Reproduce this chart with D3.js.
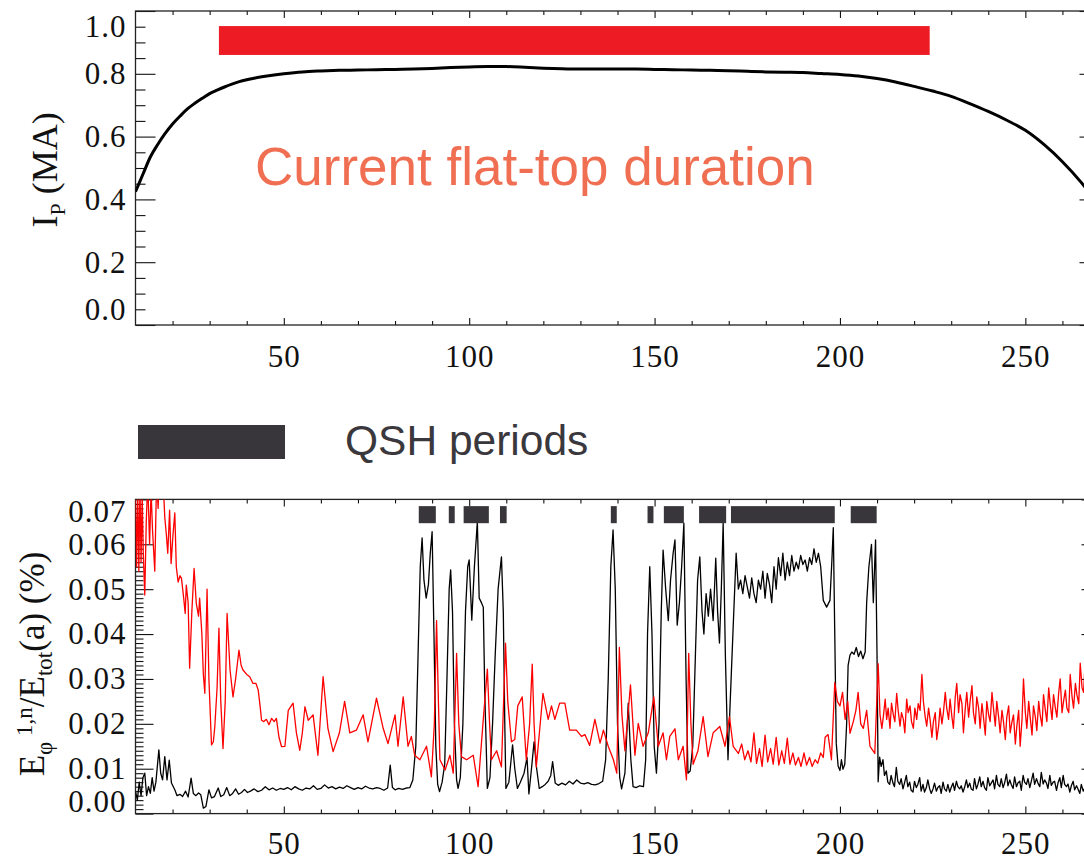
<!DOCTYPE html>
<html>
<head>
<meta charset="utf-8">
<script src="https://cdn.jsdelivr.net/npm/d3@7"></script>
<style>
  html, body { margin: 0; padding: 0; background: #fff; }
  #chart { width: 1084px; height: 862px; }
</style>
</head>
<body>
<div id="chart"></div>
<script>
// ---- data ----
// plasma current, time (ms) -> Ip (MA)
const ipPoints = [
  [10, 0.425], [12, 0.48], [14, 0.535], [16, 0.575], [18, 0.61], [20, 0.64], [22, 0.665],
  [24, 0.688], [26, 0.706], [28, 0.722], [30, 0.737], [32, 0.748], [34, 0.758], [36, 0.767],
  [38, 0.775], [40, 0.781], [42, 0.786], [45, 0.792], [50, 0.8], [55, 0.806], [60, 0.809],
  [65, 0.811], [70, 0.812], [75, 0.813], [80, 0.814], [85, 0.815], [90, 0.817], [95, 0.82],
  [100, 0.822], [105, 0.823], [110, 0.823], [115, 0.821], [120, 0.818], [125, 0.816],
  [130, 0.815], [135, 0.815], [140, 0.815], [145, 0.815], [150, 0.814], [155, 0.813],
  [160, 0.812], [165, 0.811], [170, 0.81], [175, 0.808], [180, 0.806], [185, 0.805],
  [190, 0.804], [195, 0.801], [200, 0.798], [205, 0.793], [210, 0.785], [215, 0.774],
  [220, 0.76], [225, 0.745], [230, 0.728], [235, 0.705], [240, 0.68], [245, 0.652],
  [250, 0.62], [255, 0.575], [260, 0.52], [265, 0.455], [268, 0.41]
];

// dominant mode energy (black)
const blackPoints = [
  [10, 0.005], [10.5, 0.003], [11, 0.007], [11.5, 0.004], [12, 0.008], [12.5, 0.009], [13, 0.004],
  [13.5, 0.006], [14, 0.0045], [14.5, 0.008], [15, 0.005], [15.5, 0.007], [16.3, 0.0142], [16.8, 0.009],
  [17.3, 0.0075], [17.9, 0.0127], [18.5, 0.0075], [19.1, 0.0119], [19.7, 0.0068], [20.6, 0.0053],
  [21.2, 0.004], [22, 0.0043], [22.7, 0.0038], [23.5, 0.005], [24.2, 0.0037], [25, 0.0079],
  [25.6, 0.0045], [26.3, 0.004], [27, 0.0046], [27.6, 0.0042], [28.3, 0.0012], [29, 0.0016],
  [29.8, 0.0053], [30.5, 0.0035], [31.3, 0.0038], [32.3, 0.0057], [33, 0.0038], [33.8, 0.0042],
  [34.6, 0.0058], [35.4, 0.004], [36.2, 0.0045], [37, 0.0055], [37.8, 0.0043], [38.6, 0.0047],
  [39.4, 0.0054], [40.2, 0.0047], [41, 0.005], [42, 0.0055], [43, 0.0049], [44, 0.0052], [45, 0.006],
  [46, 0.0053], [47, 0.0057], [48, 0.0052], [49, 0.0056], [50, 0.0054], [51, 0.0058], [52, 0.0053],
  [53, 0.006], [54, 0.0055], [55, 0.0052], [56, 0.0057], [57, 0.0055], [58, 0.0062], [59, 0.0054],
  [60, 0.0056], [61, 0.0064], [62, 0.0057], [63, 0.006], [64, 0.0055], [65, 0.0059], [66, 0.0056],
  [67, 0.0062], [68, 0.0058], [69, 0.0054], [70, 0.0058], [71, 0.0055], [72, 0.0061], [73, 0.0057],
  [74, 0.0055], [75, 0.0058], [76, 0.0056], [77, 0.0052], [78, 0.0057], [78.7, 0.0108], [79.3, 0.0058],
  [80, 0.0053], [81, 0.0056], [82, 0.0054], [83, 0.0057], [84, 0.0058], [84.8, 0.0075], [85.6, 0.015],
  [86.2, 0.035], [86.8, 0.055], [87.3, 0.0614], [87.8, 0.052], [88.4, 0.048], [89, 0.051], [89.5, 0.058],
  [90, 0.0628], [90.5, 0.04], [91, 0.015], [91.5, 0.0065], [92, 0.0049], [92.7, 0.007], [93.4, 0.011],
  [94, 0.03], [94.6, 0.05], [95, 0.0543], [95.5, 0.045], [96, 0.02], [96.6, 0.0075], [97, 0.0056],
  [97.6, 0.008], [98.3, 0.02], [99, 0.045], [99.6, 0.055], [100, 0.0565], [100.7, 0.0431], [101.4, 0.055],
  [102.2, 0.065], [102.7, 0.048], [103.3, 0.047], [103.8, 0.046], [104.2, 0.027], [104.9, 0.0056],
  [105.6, 0.008], [106.3, 0.02], [107, 0.035], [107.8, 0.05], [108.7, 0.0572], [109.2, 0.045],
  [109.6, 0.02], [109.9, 0.0056], [110.7, 0.007], [111.7, 0.0153], [112.3, 0.01], [113, 0.0056],
  [113.8, 0.007], [114.8, 0.009], [115.6, 0.0125], [116.1, 0.0044], [116.8, 0.01], [117.5, 0.016],
  [118.2, 0.01], [118.9, 0.0056], [119.7, 0.006], [120.5, 0.0065], [121.3, 0.0072], [122, 0.0085],
  [122.5, 0.0116], [123.2, 0.0068], [124, 0.0063], [125, 0.0068], [126, 0.0064], [127, 0.0072],
  [128, 0.0066], [129, 0.0075], [130, 0.0068], [131, 0.0066], [132, 0.0069], [133, 0.0065],
  [134, 0.0064], [135, 0.0067], [136, 0.0072], [136.8, 0.012], [137.5, 0.03], [138.2, 0.055],
  [138.8, 0.0632], [139.4, 0.05], [140, 0.02], [140.6, 0.008], [141.1, 0.0055], [142, 0.009],
  [142.9, 0.0246], [143.6, 0.012], [144.2, 0.006], [145, 0.0058], [146, 0.0062], [147, 0.006],
  [147.6, 0.012], [148.1, 0.04], [148.7, 0.055], [149.3, 0.04], [149.9, 0.015], [150.5, 0.009],
  [151.2, 0.02], [151.8, 0.045], [152.3, 0.0587], [153, 0.05], [153.7, 0.043], [154.3, 0.052],
  [155, 0.058], [155.5, 0.061], [156.1, 0.042], [156.7, 0.047], [157.3, 0.055], [157.9, 0.0647],
  [158.5, 0.03], [159, 0.009], [159.6, 0.0095], [160.3, 0.015], [161, 0.035], [161.6, 0.052],
  [162.2, 0.0572], [162.8, 0.045], [163.3, 0.04], [163.9, 0.049], [164.5, 0.044], [165.1, 0.05],
  [165.8, 0.043], [166.5, 0.0569], [167, 0.045], [167.5, 0.038], [168, 0.05], [168.5, 0.0647],
  [169.1, 0.035], [169.8, 0.012], [170.4, 0.025], [171.2, 0.0416], [172, 0.058], [172.6, 0.05],
  [173.2, 0.052], [173.8, 0.049], [174.4, 0.053], [175, 0.0505], [175.6, 0.048], [176.2, 0.0525],
  [176.8, 0.049], [177.4, 0.047], [178, 0.052], [178.6, 0.05], [179.2, 0.054], [179.8, 0.048],
  [180.4, 0.0535], [181, 0.051], [181.6, 0.047], [182.2, 0.055], [182.8, 0.05], [183.4, 0.057],
  [184, 0.053], [184.6, 0.058], [185.2, 0.052], [185.8, 0.056], [186.4, 0.053], [187, 0.0575],
  [187.6, 0.054], [188.2, 0.056], [188.8, 0.0545], [189.4, 0.0575], [190, 0.0555], [190.6, 0.0565],
  [191.2, 0.054], [191.8, 0.057], [192.4, 0.0555], [193, 0.059], [193.6, 0.056], [194.2, 0.058],
  [194.8, 0.055], [195.5, 0.0475], [196.4, 0.046], [197.3, 0.0475], [197.8, 0.056], [198.2, 0.0637],
  [198.6, 0.04], [199, 0.0157], [199.5, 0.0106], [200, 0.0096], [200.4, 0.012], [200.8, 0.0099],
  [201.3, 0.011], [201.8, 0.02], [202.2, 0.033], [202.7, 0.0353], [203.2, 0.036], [203.8, 0.0355],
  [204.4, 0.037], [205, 0.035], [205.6, 0.0362], [206.2, 0.0345], [206.8, 0.036], [207.2, 0.047],
  [207.8, 0.055], [208.5, 0.06], [209, 0.047], [209.6, 0.061], [210, 0.035], [210.3, 0.0071],
  [210.7, 0.0126], [211.1, 0.0105], [211.6, 0.012], [212, 0.0085], [212.5, 0.0095], [212.9, 0.007],
  [213.4, 0.0065], [213.8, 0.0085], [214.3, 0.0068], [214.7, 0.006], [215.2, 0.0103], [215.6, 0.0072],
  [216.1, 0.0065], [216.5, 0.0078], [217, 0.0055], [217.4, 0.0068], [217.9, 0.0085], [218.3, 0.006],
  [218.8, 0.007], [219.2, 0.0052], [219.7, 0.0048], [220.1, 0.0072], [220.6, 0.0058], [221, 0.0065],
  [221.5, 0.008], [221.9, 0.005], [222.4, 0.0065], [222.8, 0.0048], [223.3, 0.0058], [223.7, 0.0075],
  [224.2, 0.0055], [224.6, 0.0045], [225.1, 0.0055], [225.5, 0.0068], [226, 0.005], [226.4, 0.0058],
  [226.9, 0.0062], [227.3, 0.0045], [227.8, 0.007], [228.2, 0.0055], [228.7, 0.005], [229.1, 0.0065],
  [229.6, 0.0048], [230, 0.0058], [230.5, 0.0068], [230.9, 0.0052], [231.4, 0.0072], [231.8, 0.006],
  [232.3, 0.0055], [232.7, 0.0062], [233.2, 0.0048], [233.6, 0.0058], [234.1, 0.0075], [234.5, 0.0058],
  [235, 0.0068], [235.4, 0.0055], [235.9, 0.0052], [236.3, 0.0078], [236.8, 0.0055], [237.2, 0.0065],
  [237.7, 0.0082], [238.1, 0.006], [238.6, 0.0072], [239, 0.0058], [239.5, 0.0052], [239.9, 0.008],
  [240.4, 0.0062], [240.8, 0.0068], [241.3, 0.0075], [241.7, 0.0055], [242.2, 0.0085], [242.6, 0.0065],
  [243.1, 0.006], [243.5, 0.0078], [244, 0.0058], [244.4, 0.0068], [244.9, 0.0088], [245.3, 0.0062],
  [245.8, 0.0075], [246.2, 0.0065], [246.7, 0.0056], [247.1, 0.0082], [247.6, 0.006], [248, 0.0068],
  [248.5, 0.0072], [248.9, 0.0052], [249.4, 0.0085], [249.8, 0.007], [250.3, 0.0065], [250.7, 0.0078],
  [251.2, 0.0058], [251.6, 0.0072], [252.1, 0.009], [252.5, 0.0065], [253, 0.0078], [253.4, 0.0068],
  [253.9, 0.006], [254.3, 0.0092], [254.8, 0.0066], [255.2, 0.0075], [255.7, 0.0068], [256.1, 0.0056],
  [256.6, 0.0085], [257, 0.0063], [257.5, 0.007], [257.9, 0.0072], [258.4, 0.0052], [258.8, 0.0068],
  [259.3, 0.008], [259.7, 0.0058], [260.2, 0.0085], [260.6, 0.0065], [261.1, 0.006], [261.5, 0.0066],
  [262, 0.0048], [262.4, 0.0062], [262.9, 0.0072], [263.3, 0.0053], [263.8, 0.0062], [264.2, 0.0055],
  [264.7, 0.0045], [265.1, 0.0065], [265.6, 0.005], [266.2, 0.006]
];

// secondary modes energy (red)
const redPoints = [
  [10, 0.07], [10.3, 0.055], [10.6, 0.072], [10.9, 0.054], [11.2, 0.073], [11.5, 0.056], [11.8, 0.071],
  [12.1, 0.058], [12.5, 0.0487], [12.9, 0.065], [13.3, 0.074], [13.8, 0.06], [14.2, 0.072], [14.6, 0.063],
  [15.2, 0.054], [15.7, 0.075], [16.1, 0.068], [16.4, 0.076], [16.9, 0.071], [17.4, 0.075], [17.9, 0.066],
  [18.3, 0.0624], [18.7, 0.058], [19.2, 0.0676], [19.6, 0.0557], [20.1, 0.062], [20.6, 0.067], [21, 0.055],
  [21.5, 0.0516], [22, 0.053], [22.4, 0.0524], [23, 0.048], [23.4, 0.0446], [23.7, 0.0509], [24.2, 0.047],
  [24.6, 0.0324], [25.2, 0.045], [25.8, 0.0546], [26.4, 0.0468], [27, 0.044], [27.3, 0.048], [27.9, 0.04],
  [28.3, 0.031], [28.7, 0.0268], [29.3, 0.05], [29.8, 0.03], [30.5, 0.0153], [31, 0.016], [31.4, 0.0195],
  [32, 0.028], [32.5, 0.0413], [33, 0.025], [33.6, 0.0145], [34.2, 0.025], [34.7, 0.0446], [35.5, 0.032],
  [36.3, 0.026], [37, 0.03], [37.9, 0.0364], [38.5, 0.033], [39, 0.032], [40, 0.031], [40.8, 0.0305],
  [41.7, 0.029], [42.5, 0.029], [43.1, 0.0275], [43.6, 0.024], [44, 0.0208], [44.6, 0.0205], [45.3, 0.021],
  [46, 0.0198], [46.7, 0.0212], [47.4, 0.0205], [48, 0.0212], [48.7, 0.017], [49.4, 0.0149], [50.3, 0.015],
  [51.2, 0.023], [52.5, 0.0246], [53.4, 0.018], [54.3, 0.0141], [55, 0.018], [55.7, 0.0238], [56.6, 0.0208],
  [57.9, 0.022], [59.2, 0.013], [60.6, 0.0305], [61.9, 0.019], [63.3, 0.0138], [65, 0.018], [66.4, 0.025],
  [67.8, 0.018], [69.6, 0.0186], [71.4, 0.022], [72.7, 0.016], [75, 0.0257], [76.8, 0.019], [78.1, 0.0156],
  [80, 0.022], [80.8, 0.015], [82.2, 0.026], [83.5, 0.015], [84.4, 0.0172], [85.3, 0.013], [86.7, 0.012],
  [88.5, 0.015], [89.8, 0.0082], [90.6, 0.02], [91.2, 0.043], [91.7, 0.025], [92.1, 0.012], [93.5, 0.0097],
  [94.8, 0.013], [95.7, 0.009], [96.6, 0.0357], [97.2, 0.02], [97.9, 0.0127], [99.3, 0.012], [101.1, 0.013],
  [102.4, 0.006], [103.8, 0.021], [104.9, 0.0322], [105.5, 0.02], [106, 0.012], [107.4, 0.014],
  [108.7, 0.0104], [109.8, 0.038], [110.4, 0.025], [111.4, 0.016], [112.3, 0.0165], [113.1, 0.024],
  [114.3, 0.026], [115.4, 0.012], [116.3, 0.02], [117, 0.0333], [117.5, 0.02], [118.1, 0.0104],
  [119.9, 0.0268], [121.3, 0.021], [122.2, 0.024], [123.1, 0.021], [124.4, 0.0246], [125.8, 0.0246],
  [127.1, 0.0186], [128.9, 0.0186], [130.3, 0.0172], [131.2, 0.0176], [132.5, 0.0152], [133.9, 0.021],
  [135.3, 0.0157], [136.2, 0.0186], [137.5, 0.015], [138.9, 0.012], [139.8, 0.009], [140.5, 0.037],
  [141.2, 0.022], [142, 0.014], [143.5, 0.0287], [144.7, 0.013], [145.6, 0.0201], [146.9, 0.015],
  [148.3, 0.018], [149.8, 0.026], [151, 0.015], [152.3, 0.018], [153.2, 0.012], [154.1, 0.0172],
  [155.5, 0.0189], [156.4, 0.012], [157.7, 0.015], [158.6, 0.0075], [159.2, 0.0357], [159.8, 0.02],
  [160.4, 0.011], [161.7, 0.014], [163.1, 0.0216], [164.4, 0.0127], [165.8, 0.018], [167.6, 0.0194],
  [169, 0.015], [170.2, 0.0216], [171.2, 0.015], [172.6, 0.0134], [173.5, 0.0155], [174.3, 0.012],
  [175.2, 0.014], [176, 0.0115], [176.8, 0.018], [177.5, 0.0112], [178.3, 0.0145], [179, 0.0105],
  [179.8, 0.0175], [180.5, 0.0115], [181.3, 0.0145], [182, 0.011], [182.8, 0.017], [183.5, 0.0108],
  [184.3, 0.014], [185, 0.0112], [185.8, 0.0168], [186.5, 0.011], [187.3, 0.0135], [188, 0.0108],
  [188.8, 0.0125], [189.5, 0.0105], [190.3, 0.0135], [191, 0.0108], [191.8, 0.0125], [192.5, 0.0105],
  [193.3, 0.012], [194, 0.0112], [194.8, 0.0135], [195.5, 0.0125], [196, 0.017], [196.8, 0.0176],
  [197.7, 0.012], [198.6, 0.0292], [199.3, 0.025], [200, 0.024], [200.7, 0.027], [201.4, 0.021],
  [202.1, 0.025], [202.7, 0.0179], [203.6, 0.0205], [204.3, 0.023], [204.9, 0.027], [205.6, 0.02],
  [206.3, 0.019], [207.2, 0.023], [208.1, 0.015], [209.4, 0.0134], [210.3, 0.0334], [210.8, 0.022],
  [211.3, 0.019], [211.7, 0.0216], [212.2, 0.0255], [212.6, 0.021], [213, 0.0235], [213.5, 0.019],
  [213.9, 0.0246], [214.4, 0.022], [214.8, 0.0205], [215.3, 0.0268], [215.7, 0.023], [216.2, 0.0195],
  [216.6, 0.0225], [217.1, 0.021], [217.5, 0.018], [218, 0.0255], [218.4, 0.0225], [218.9, 0.024],
  [219.3, 0.0205], [219.8, 0.019], [220.2, 0.0235], [220.7, 0.021], [221.1, 0.0245], [221.6, 0.023],
  [222.1, 0.031], [222.5, 0.025], [223, 0.0215], [223.4, 0.0195], [223.9, 0.0235], [224.3, 0.021],
  [224.8, 0.017], [225.2, 0.0205], [225.7, 0.0225], [226.1, 0.0165], [226.6, 0.0195], [227, 0.0235],
  [227.5, 0.02], [227.9, 0.0225], [228.4, 0.027], [228.8, 0.0235], [229.3, 0.021], [229.7, 0.0255],
  [230.2, 0.0215], [230.6, 0.019], [231.1, 0.026], [231.5, 0.029], [232, 0.0225], [232.4, 0.0265],
  [232.9, 0.0245], [233.3, 0.018], [233.8, 0.0235], [234.2, 0.027], [234.7, 0.0215], [235.1, 0.025],
  [235.6, 0.0285], [236, 0.0225], [236.5, 0.02], [236.9, 0.026], [237.4, 0.0235], [237.8, 0.019],
  [238.3, 0.0245], [238.7, 0.0215], [239.2, 0.0175], [239.6, 0.025], [240.1, 0.022], [240.5, 0.0205],
  [241, 0.027], [241.4, 0.0235], [241.9, 0.0195], [242.3, 0.025], [242.8, 0.0215], [243.2, 0.018],
  [243.7, 0.023], [244.1, 0.0205], [244.6, 0.0165], [245, 0.0215], [245.5, 0.024], [245.9, 0.018],
  [246.4, 0.0205], [246.8, 0.022], [247.3, 0.0155], [247.7, 0.0195], [248.2, 0.023], [248.6, 0.015],
  [249.1, 0.021], [249.5, 0.03], [250, 0.0225], [250.4, 0.019], [250.9, 0.025], [251.3, 0.0215],
  [251.8, 0.0175], [252.2, 0.024], [252.7, 0.0215], [253.1, 0.0185], [253.6, 0.025], [254, 0.022],
  [254.5, 0.0195], [254.9, 0.0265], [255.4, 0.023], [255.8, 0.0205], [256.3, 0.028], [256.7, 0.0245],
  [257.2, 0.021], [257.6, 0.0265], [258.1, 0.0235], [258.5, 0.0215], [259, 0.027], [259.4, 0.03],
  [259.9, 0.0225], [260.3, 0.025], [260.8, 0.0275], [261.2, 0.0235], [261.7, 0.0225], [262.1, 0.031],
  [262.6, 0.026], [263, 0.0235], [263.5, 0.029], [263.9, 0.0265], [264.4, 0.0245], [264.8, 0.0335],
  [265.3, 0.028], [265.7, 0.027], [266.2, 0.035]
];

// QSH intervals (ms)
const qshStart = [86.4, 94.5, 98.5, 108.3, 138.2, 148.1, 152.5, 162.0, 170.6, 202.9];
const qshEnd   = [91.0, 96.1, 105.3, 110.1, 139.8, 149.7, 157.9, 169.3, 198.6, 209.9];

// current flat-top interval (ms)
const flatTop = [32.5, 224.2];

// ticks
const xMajorTicks = [50, 100, 150, 200, 250];
const ipTicks = [0, 0.2, 0.4, 0.6, 0.8, 1.0];
const energyTicks = [0, 0.01, 0.02, 0.03, 0.04, 0.05, 0.06, 0.07];

// ---- drawing ----
const W = 1084, H = 862;
const serif = "'Liberation Serif', 'Times New Roman', serif";
const sans = "'Liberation Sans', Arial, Helvetica, sans-serif";
const left = 135.5, right = 1099.5;

const svg = d3.select('#chart').append('svg')
    .attr('width', W)
    .attr('height', H)
    .style('background', '#fff');

const x = d3.scaleLinear().domain([10, 270]).range([left, right]);
const xMinorTicks = d3.range(20, 270, 10).filter(d => d % 50 !== 0);

const yIp = d3.scaleLinear().domain([0, 1]).range([325, 11]);
const yEn = d3.scaleLinear().domain([0, 0.07]).range([813.6, 499.4]);

function styleText(g) {
    g.attr('font-family', null).attr('font-size', null);
    g.selectAll('text')
        .attr('font-family', serif)
        .attr('font-size', 31)
        .attr('letter-spacing', 1)
        .attr('fill', '#111');
    g.selectAll('line').attr('stroke', '#111').attr('stroke-width', 1.1);
    g.select('.domain').remove();
}

function drawPanel(y, opt) {
    const [bottom, top] = y.range();

    // bottom x axis
    svg.append('g').attr('transform', `translate(0,${bottom})`)
        .call(d3.axisBottom(x).tickValues(xMinorTicks).tickSize(-4).tickFormat(''))
        .call(styleText);
    svg.append('g').attr('transform', `translate(0,${bottom})`)
        .call(d3.axisBottom(x).tickValues(xMajorTicks).tickSize(-7).tickPadding(opt.xPad).tickFormat(d3.format('d')))
        .call(styleText);
    // top x axis
    svg.append('g').attr('transform', `translate(0,${top})`)
        .call(d3.axisTop(x).tickValues(xMinorTicks).tickSize(-4).tickFormat(''))
        .call(styleText);
    svg.append('g').attr('transform', `translate(0,${top})`)
        .call(d3.axisTop(x).tickValues(xMajorTicks).tickSize(-7).tickFormat(''))
        .call(styleText);

    // left y axis
    svg.append('g').attr('transform', `translate(${left},0)`)
        .call(d3.axisLeft(y).tickValues(opt.minor).tickSize(-opt.minorLen).tickFormat(''))
        .call(styleText);
    const gl = svg.append('g').attr('transform', `translate(${left},0)`)
        .call(d3.axisLeft(y).tickValues(opt.major).tickSize(-opt.majorLen).tickPadding(9).tickFormat(d3.format(opt.fmt)))
        .call(styleText);
    // end labels sit inside the frame
    const [d0, d1] = y.domain();
    gl.selectAll('.tick text')
        .attr('y', d => d === d0 ? -opt.endShift : (Math.abs(d - d1) < 1e-9 ? opt.endShift : 0));

    // right y axis
    svg.append('g').attr('transform', `translate(${right},0)`)
        .call(d3.axisRight(y).tickValues(opt.minor).tickSize(-opt.minorLen).tickFormat(''))
        .call(styleText);
    svg.append('g').attr('transform', `translate(${right},0)`)
        .call(d3.axisRight(y).tickValues(opt.major).tickSize(-opt.majorLen).tickFormat(''))
        .call(styleText);

    // frame
    svg.append('rect')
        .attr('x', left).attr('y', top)
        .attr('width', right - left).attr('height', bottom - top)
        .attr('fill', 'none')
        .attr('stroke', '#222')
        .attr('stroke-width', 1.3);

    // clip
    svg.append('clipPath').attr('id', opt.clipId)
        .append('rect')
        .attr('x', left).attr('y', top)
        .attr('width', right - left).attr('height', bottom - top);
}

// ---------- top panel: plasma current ----------
drawPanel(yIp, {
    major: ipTicks,
    minor: d3.range(0, 1.001, 0.05).filter(d => Math.round(d * 100) % 20 !== 0),
    majorLen: 20, minorLen: 10, endShift: 15.7,
    fmt: '.1f', xPad: 20, clipId: 'clip-ip'
});

const ipLayer = svg.append('g').attr('clip-path', 'url(#clip-ip)');

ipLayer.append('rect')
    .attr('x', x(flatTop[0]))
    .attr('width', x(flatTop[1]) - x(flatTop[0]))
    .attr('y', yIp(0.952))
    .attr('height', yIp(0.86) - yIp(0.952))
    .attr('fill', '#ed1c24');

ipLayer.append('path')
    .datum(ipPoints)
    .attr('fill', 'none')
    .attr('stroke', '#000')
    .attr('stroke-width', 3)
    .attr('stroke-linejoin', 'round')
    .attr('d', d3.line().x(d => x(d[0])).y(d => yIp(d[1])).curve(d3.curveMonotoneX));

svg.append('text')
    .attr('x', 255)
    .attr('y', 185)
    .attr('font-family', sans)
    .attr('font-size', 53)
    .attr('fill', '#f06f53')
    .text('Current flat-top duration');

// y title: I_P (MA)
const ipTitle = svg.append('text')
    .attr('transform', 'translate(57,170) rotate(-90)')
    .attr('text-anchor', 'middle')
    .attr('font-family', serif)
    .attr('font-size', 36)
    .attr('fill', '#111');
ipTitle.append('tspan').text('I');
ipTitle.append('tspan').attr('dy', 8).attr('font-size', 22).text('P');
ipTitle.append('tspan').attr('dy', -8).text(' (MA)');

// ---------- legend for QSH ----------
svg.append('rect')
    .attr('x', 138).attr('y', 425)
    .attr('width', 147).attr('height', 34)
    .attr('fill', '#38363b');
svg.append('text')
    .attr('x', 345).attr('y', 455)
    .attr('font-family', sans)
    .attr('font-size', 42.5)
    .attr('fill', '#3a383d')
    .text('QSH periods');

// ---------- bottom panel: mode energies ----------
drawPanel(yEn, {
    major: energyTicks,
    minor: d3.range(0, 70).map(i => i / 1000).filter((d, i) => i % 10 !== 0),
    majorLen: 18, minorLen: 8, endShift: 12,
    fmt: '.2f', xPad: 18, clipId: 'clip-en'
});

const enLayer = svg.append('g').attr('clip-path', 'url(#clip-en)');
const enLine = d3.line().x(d => x(d[0])).y(d => yEn(d[1]));

enLayer.append('path')
    .datum(blackPoints)
    .attr('fill', 'none')
    .attr('stroke', '#000')
    .attr('stroke-width', 1.3)
    .attr('stroke-linejoin', 'round')
    .attr('d', enLine);

enLayer.append('path')
    .datum(redPoints)
    .attr('fill', 'none')
    .attr('stroke', '#ff0000')
    .attr('stroke-width', 1.3)
    .attr('stroke-linejoin', 'round')
    .attr('d', enLine);

// QSH bars
enLayer.selectAll('.qsh')
    .data(qshStart.map((s, i) => [s, qshEnd[i]]))
    .enter()
    .append('rect')
    .attr('class', 'qsh')
    .attr('x', d => x(d[0]))
    .attr('width', d => x(d[1]) - x(d[0]))
    .attr('y', yEn(0.0685))
    .attr('height', yEn(0.0647) - yEn(0.0685))
    .attr('fill', '#38363b');

// y title: E_phi^{1,n}/E_tot(a) (%)
const enTitle = svg.append('text')
    .attr('transform', 'translate(44,664) rotate(-90)')
    .attr('text-anchor', 'middle')
    .attr('font-family', serif)
    .attr('font-size', 35)
    .attr('fill', '#111');
enTitle.append('tspan').text('E');
enTitle.append('tspan').attr('dy', 8).attr('font-size', 23).text('\u03C6');
enTitle.append('tspan').attr('dy', -20).attr('font-size', 23).text(' 1,n');
enTitle.append('tspan').attr('dy', 12).text('/E');
enTitle.append('tspan').attr('dy', 8).attr('font-size', 23).text('tot');
enTitle.append('tspan').attr('dy', -8).text('(a) (%)');
</script>
</body>
</html>
